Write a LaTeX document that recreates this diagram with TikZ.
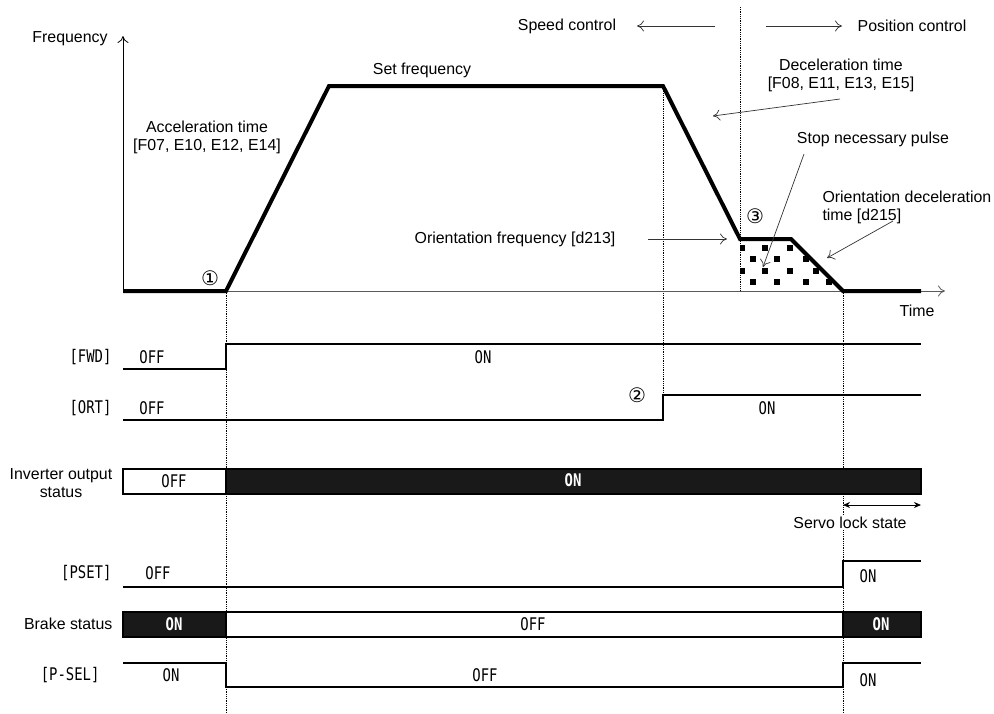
\documentclass[tikz,border=0pt]{standalone}
\usepackage{fontspec}
\setmainfont{Liberation Sans}
\newfontfamily\sigfont[FakeStretch=0.8]{DejaVu Sans Mono}
\newfontfamily\circfont{DejaVu Sans}
\usepackage{tikz}
\usetikzlibrary{arrows.meta}
\usetikzlibrary{positioning}

\tikzset{
  prof/.style={line width=4pt, line join=miter},
  sig/.style={line width=1.6pt},
  guide/.style={densely dotted, line width=0.8pt},
  note/.style={line width=0.7pt, black!80, -{To[length=7pt,width=11pt]}},
  lvl/.style={font=\fontsize{17.4}{19}\sigfont},
  lvlw/.style={font=\fontsize{17.4}{19}\sigfont\bfseries, text=white},
  circ/.style={font=\fontsize{20}{22}\circfont},
}

\begin{document}
\begin{tikzpicture}[x=1pt,y=-1pt,font=\fontsize{15.9}{18}\selectfont]
    \useasboundingbox (0,0) rectangle (994,713);
    \draw[guide] (226,291) -- (226,713) (663,86) -- (663,395) (740,7) -- (740,291) (843,291) -- (843,713);
    % stop pulse
    \begin{scope}
        \clip (740,239) -- (791,239) -- (843,291) -- (740,291) -- cycle;
        \foreach \y in {248,271} \foreach \x in {742,765,790,816} \fill (\x-2.7,\y-2.7) rectangle ++(5.4,5.4);
        \foreach \y in {259,282} \foreach \x in {753,777,806,829} \fill (\x-2.7,\y-2.7) rectangle ++(5.4,5.4);
    \end{scope}
    \draw[line width=0.8pt, -{To[length=7pt,width=11pt]}] (123,291) -- (123,36);
    \draw[line width=0.8pt, black!65, -{To[length=7pt,width=11pt]}] (123,291) -- (945,291);
    \draw[prof] (123,291) -- (226,291) -- (329,86) -- (663,86) -- (740,239) -- (791,239) -- (843,291) -- (921,291);
    \node (freq) at (70,39) {Frequency};
    \node (time) at (917,311) {Time};
    \node (setf) at (422,70) {Set frequency};
    \node[align=center] (acc) at (207,137) {Acceleration time\\{}[F07, E10, E12, E14]};
    \node[align=center] (dec) at (841,75) {Deceleration time\\{}[F08, E11, E13, E15]};
    \node (stp) at (873,139) {Stop necessary pulse};
    \node[align=left, anchor=west] (odec) at (819,207) {Orientation deceleration\\time [d215]};
    \node (ofrq) at (515,239) {Orientation frequency [d213]};
    \node[circ] (n1) at (210,278) {①};
    \node[circ] (n3) at (755,216) {③};
    % control zones
    \node (speed) at (567,26) {Speed control};
    \node (posn) at (912,26) {Position control};
    \coordinate (spd0) at (715,26); \coordinate (spd1) at (637,26);
    \coordinate (pos0) at (766,26); \coordinate (pos1) at (842,26);
    \draw[note] (spd0) -- (spd1);
    \draw[note] (pos0) -- (pos1);
    \coordinate (dec0) at (840,99); \coordinate (dec1) at (713,116);
    \coordinate (stp0) at (804,154); \coordinate (stp1) at (763,267);
    \coordinate (odec0) at (893,221); \coordinate (odec1) at (827,258);
    \coordinate (ofrq0) at (648,239); \coordinate (ofrq1) at (727,239);
    \draw[note] (dec0) -- (dec1);
    \draw[note] (stp0) -- (stp1);
    \draw[note] (odec0) -- (odec1);
    \draw[note] (ofrq0) -- (ofrq1);
    % signals
    \node[lvl, anchor=east] (fwd) at (115,357) {[FWD]};
    \draw[sig] (123,369) -- (226,369) -- (226,344) -- (921,344);
    \node[lvl] (fwdoff) at (152,357) {OFF};
    \node[lvl] (fwdon) at (483,357) {ON};
    \node[lvl, anchor=east] (ort) at (115,408) {[ORT]};
    \draw[sig] (123,420) -- (663,420) -- (663,395) -- (921,395);
    \node[lvl] (ortoff) at (152,408) {OFF};
    \node[lvl] (orton) at (767,408) {ON};
    \node[circ] (n2) at (637,395) {②};
    \node[align=center] (inv) at (61,483) {Inverter output\\status};
    \draw[sig, fill=white] (123,469) rectangle (226,494);
    \draw[sig, fill=black!90] (226,469) rectangle (921,494);
    \node[lvl] (invoff) at (174,481) {OFF};
    \node[lvlw] (invon) at (573,480) {ON};
    \coordinate (lk0) at (843,505); \coordinate (lk1) at (921,505);
    \draw[line width=0.8pt, {Stealth[length=7pt,width=6pt]}-{Stealth[length=7pt,width=6pt]}] (lk0) -- (lk1);
    \node[fill=white, inner sep=1pt] (lock) at (850,523) {Servo lock state};
    \node[lvl, anchor=east] (pset) at (115,573) {[PSET]};
    \draw[sig] (123,587) -- (843,587) -- (843,561) -- (921,561);
    \node[lvl] (psetoff) at (158,573) {OFF};
    \node[lvl] (pseton) at (868,576) {ON};
    \node[anchor=east] (brk) at (116,624) {Brake status};
    \draw[sig, fill=black!90] (123,612) rectangle (226,637);
    \draw[sig, fill=white] (226,612) rectangle (843,637);
    \draw[sig, fill=black!90] (843,612) rectangle (921,637);
    \node[lvlw] (brkon) at (174,624) {ON};
    \node[lvl] (brkoff) at (533,624) {OFF};
    \node[lvlw] (brkon2) at (881,624) {ON};
    \node[lvl, anchor=east] (psel) at (103,675) {[P-SEL]};
    \draw[sig] (123,663) -- (226,663) -- (226,687) -- (843,687) -- (843,663) -- (921,663);
    \node[lvl] (pselon) at (171,675) {ON};
    \node[lvl] (pseloff) at (485,675) {OFF};
    \node[lvl] (pselon2) at (868,680) {ON};
\end{tikzpicture}
\end{document}
